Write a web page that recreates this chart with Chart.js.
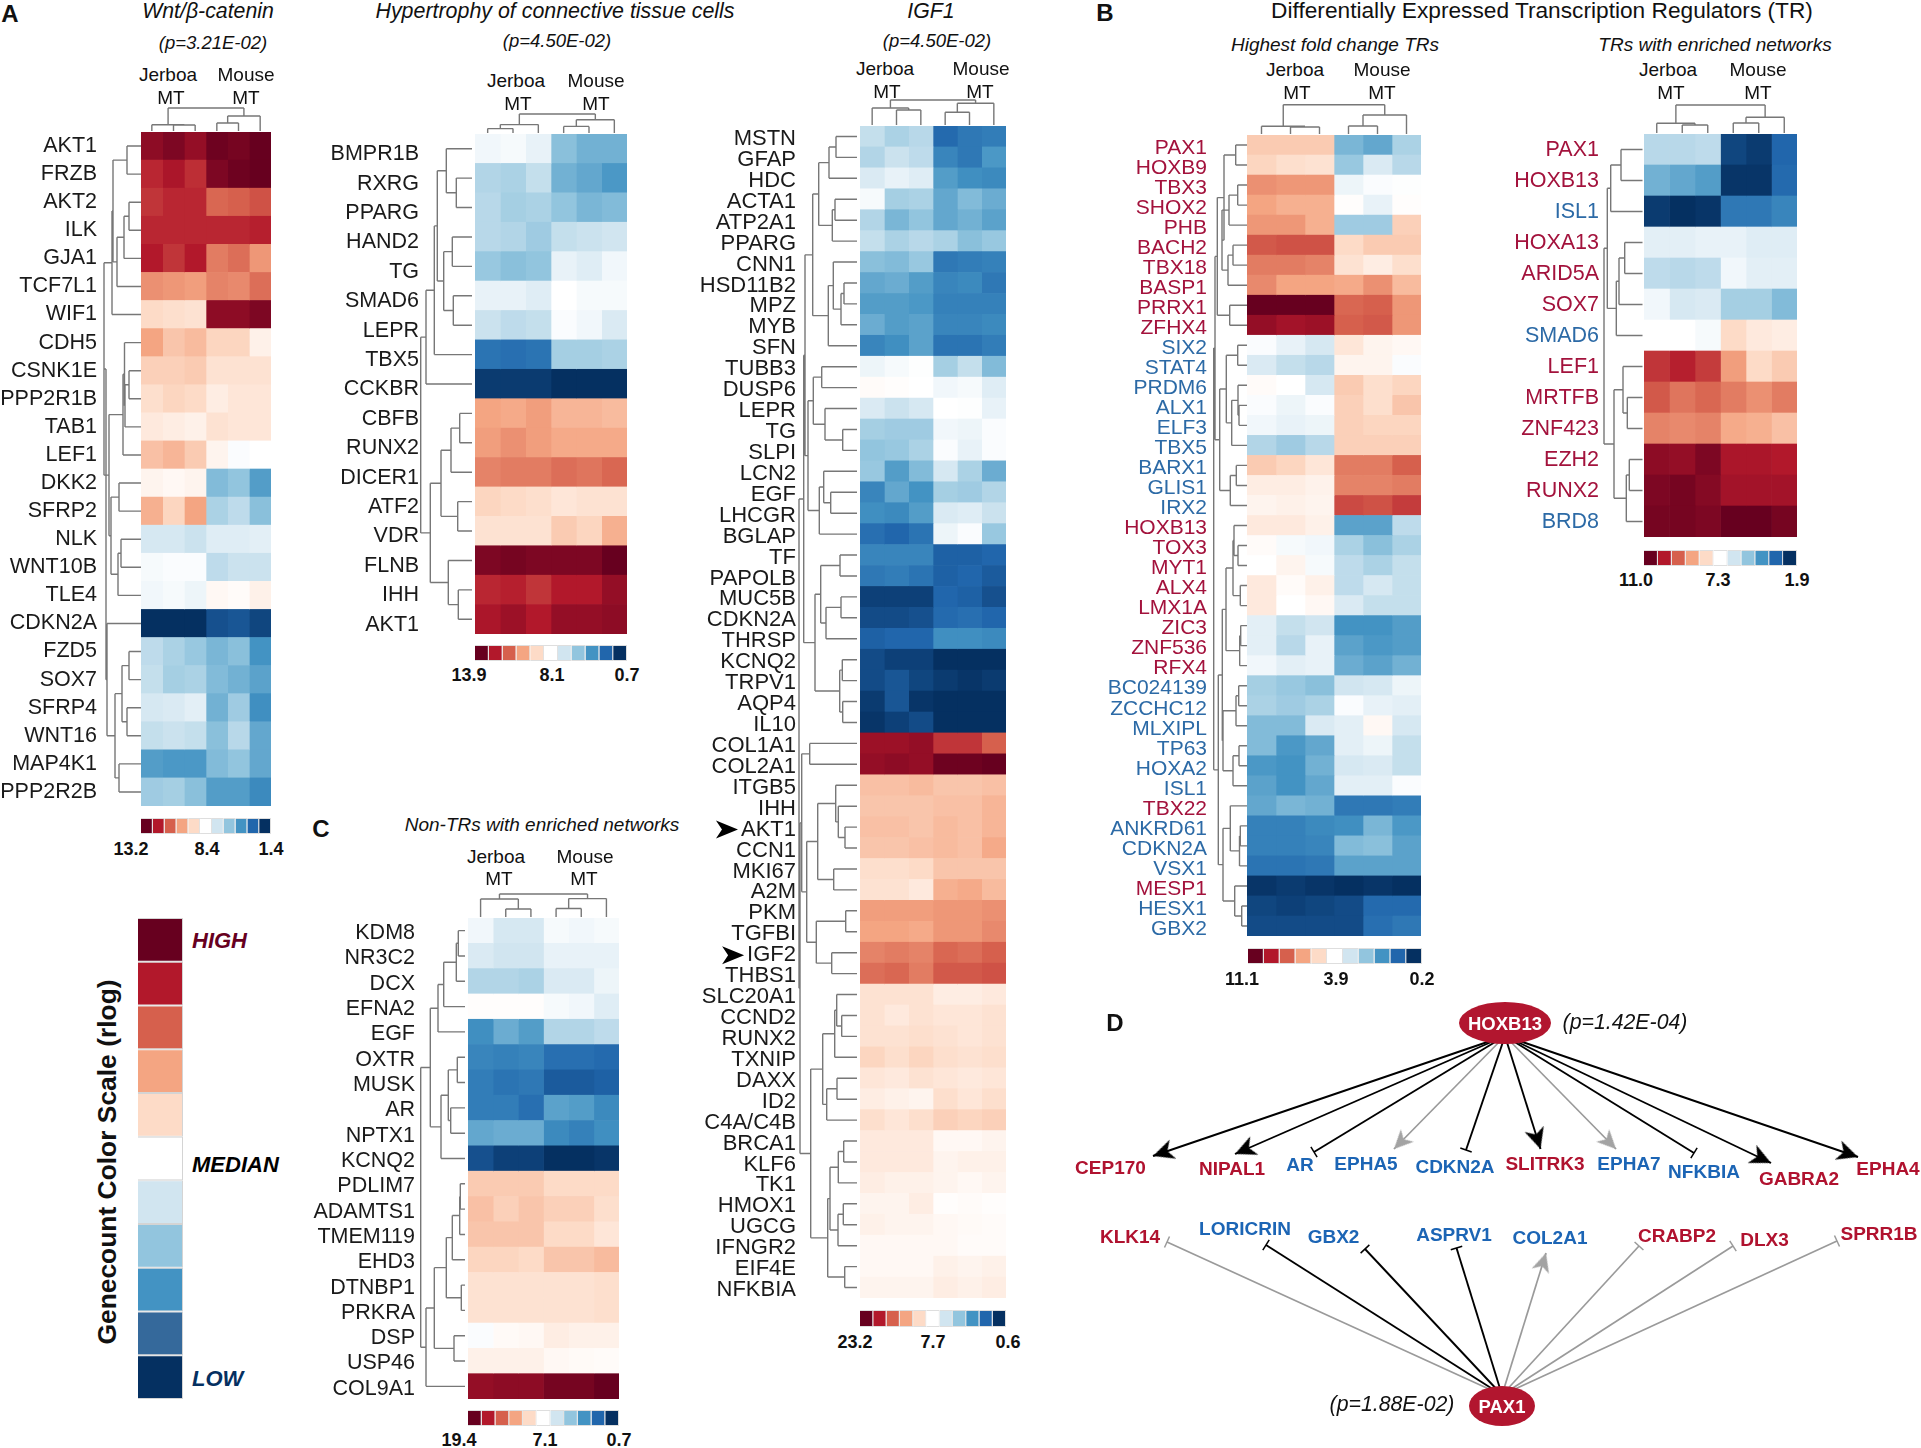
<!DOCTYPE html>
<html><head><meta charset="utf-8">
<style>
html,body{margin:0;padding:0;background:#fff;width:1921px;height:1448px;overflow:hidden}
#page{position:relative;width:1921px;height:1448px;font-family:"Liberation Sans",Arial,sans-serif}
canvas{position:absolute;display:block}
.t{position:absolute;white-space:nowrap;line-height:1;transform:translate(-50%,-50%);color:#111}
</style>
<script src="https://cdn.jsdelivr.net/npm/chart.js@4"></script>
</head><body><div id="page"></div>
<script>
// ---------- DATA (levels: +5 = highest colour step, 0 = median, -5 = lowest) ----------
const samples = ['J1','J2','J3','M1','M2','M3'];
const genesA = ['AKT1','FRZB','AKT2','ILK','GJA1','TCF7L1','WIF1','CDH5','CSNK1E','PPP2R1B','TAB1','LEF1','DKK2','SFRP2','NLK','WNT10B','TLE4','CDKN2A','FZD5','SOX7','SFRP4','WNT16','MAP4K1','PPP2R2B'];
const levelsA = [[4.5,4.7,4.4,4.9,4.8,5],[3.8,4.1,3.7,4.7,4.9,5],[3.6,3.8,3.8,2.9,3,3.2],[3.8,3.8,3.8,3.8,3.8,3.9],[4,3.6,4,2.6,2.8,2.2],[2.3,2.2,2.1,2.5,2.4,2.8],[1,.9,.8,4.5,4.5,4.7],[2,1.4,1.6,1.1,1.1,.4],[1.2,1.2,1.3,.8,.8,.8],[.9,1.1,1,.5,.7,.7],[.6,.5,.4,.8,.7,.7],[1.5,1.7,1.3,.3,-.1,0],[.3,.2,.3,-2.2,-2,-2.8],[1.8,1.1,2,-1.6,-1.3,-2.1],[-.9,-.9,-1.1,-.7,-.7,-.6],[-.2,-.1,-.1,-1.3,-1.1,-1.1],[-.3,-.2,-.4,.2,.1,.4],[-5,-5,-5,-4.4,-4.3,-4.6],[-1.3,-1.6,-1.9,-2.3,-2.1,-3],[-1.2,-1.7,-1.6,-2.2,-2.4,-2.7],[-.9,-.8,-.6,-2.4,-1.8,-3.1],[-1.2,-1.1,-1.2,-2.1,-1.4,-2.6],[-2.8,-2.9,-2.9,-2.2,-2,-2.6],[-1.8,-1.7,-2.1,-2.8,-2.8,-3.2]];
const rowTreeA = [35,[37,[29,[28,[14,0,1],[24,[17,[12,2,3],4],5]],6],[32,[18,[16.5,7,[16,[12,8,9],10]],11],[30,[22,12,13],[23,[20,14,15],16]]]],[34,17,[26,[19,[12,18,19],[14,20,21]],[22,22,23]]]];
const colTreeA = [24,[7.3,0,[7,1,2]],[16,[9,3,4],5]];

const genesH = ['BMPR1B','RXRG','PPARG','HAND2','TG','SMAD6','LEPR','TBX5','CCKBR','CBFB','RUNX2','DICER1','ATF2','VDR','FLNB','IHH','AKT1'];
const levelsH = [[-.3,-.2,-.5,-2.1,-2.4,-2.4],[-1.5,-1.6,-1.2,-2.4,-2.6,-2.9],[-1.4,-1.7,-1.6,-2,-2.3,-2.2],[-1.4,-1.5,-1.8,-1.2,-1.1,-1],[-1.9,-2.1,-2,-.5,-.7,-.3],[-.5,-.5,-.7,0,-.2,-.2],[-1.1,-1.3,-1.2,-.1,-.3,-.8],[-3.7,-3.8,-3.7,-1.7,-1.7,-1.6],[-4.8,-4.8,-4.8,-5,-5,-5],[2,1.9,2.1,1.7,1.7,1.6],[2.1,2.3,2.1,1.9,1.9,1.9],[2.5,2.6,2.6,2.8,2.7,2.9],[1.1,1,.9,.7,.8,.8],[.8,.8,.8,1.3,1.1,1.8],[4.7,4.8,4.7,4.7,4.7,5],[3.8,3.9,3.6,4,4,4.4],[4.1,4.3,4,4.4,4.4,4.5]];
const rowTreeH = [54.3,[49,[40.7,[37.7,[28.7,0,[18.7,1,2]],[31.3,[22.7,3,4],[21.7,5,6]]],7],8],[44.7,[34,[24,[15.3,9,10],11],[17.3,12,13]],[26.7,14,[16.7,15,16]]]];
const colTreeH = [20,[9.4,[5.4,0,1],2],[14.3,[7.6,3,4],5]];

const genesI = ['MSTN','GFAP','HDC','ACTA1','ATP2A1','PPARG','CNN1','HSD11B2','MPZ','MYB','SFN','TUBB3','DUSP6','LEPR','TG','SLPI','LCN2','EGF','LHCGR','BGLAP','TF','PAPOLB','MUC5B','CDKN2A','THRSP','KCNQ2','TRPV1','AQP4','IL10','COL1A1','COL2A1','ITGB5','IHH','AKT1','CCN1','MKI67','A2M','PKM','TGFBI','IGF2','THBS1','SLC20A1','CCND2','RUNX2','TXNIP','DAXX','ID2','C4A/C4B','BRCA1','KLF6','TK1','HMOX1','UGCG','IFNGR2','EIF4E','NFKBIA'];
const levelsI = [[-1.2,-1.6,-1.4,-3.9,-3.6,-3.5],[-1.5,-1.1,-1.3,-3.3,-3.6,-2.9],[-.8,-.5,-.7,-2.8,-3.1,-3.2],[-.2,-1.7,-1.6,-2.6,-2.2,-2.5],[-1.5,-2.3,-2,-2.6,-2.4,-2.7],[-1.2,-1.6,-1.4,-1.6,-2.1,-1.9],[-2.1,-2.2,-1.9,-3.6,-3.5,-3.4],[-2.6,-2.5,-2.8,-3.3,-3.2,-3.6],[-2.8,-2.8,-2.9,-3.4,-3.4,-3.4],[-2.5,-2.8,-2.7,-3.3,-3.3,-3.2],[-3.3,-3.1,-2.7,-3.7,-3.7,-3.5],[-.4,-.2,-.05,-1.7,-1.2,-2.2],[.1,.05,0,-.3,-.2,-.7],[-.8,-1.1,-.9,0,-.05,-.5],[-1.7,-1.8,-1.8,-.3,-.4,-.1],[-2,-1.9,-1.6,-.1,-.5,-.1],[-1.9,-2.8,-2.2,-.9,-1.6,-2.5],[-3.3,-2.6,-3,-1.7,-1.8,-1.5],[-3.1,-3.2,-2.8,-.8,-.7,-1.1],[-3.8,-4,-3.7,-.4,-.1,-1.9],[-3.3,-3.3,-3.3,-4.1,-4.1,-4],[-3.6,-3.5,-3.7,-4.1,-4,-4.2],[-4.7,-4.7,-4.7,-4,-4.1,-4.4],[-4.5,-4.5,-4.4,-3.9,-3.8,-4],[-4.1,-4,-4,-3.1,-3.1,-3.2],[-4.5,-4.7,-4.7,-5,-5,-5],[-4.5,-4.3,-4.6,-4.8,-4.9,-4.8],[-4.8,-4.3,-4.9,-5,-5,-5],[-4.9,-4.7,-4.5,-5,-5,-5],[4.3,4.3,4.4,3.6,3.6,3],[4.4,4.5,4.4,4.9,4.9,5],[1.5,1.5,1.6,1.4,1.4,1.5],[1.4,1.4,1.4,1.5,1.5,1.7],[1.5,1.5,1.4,1.6,1.5,1.7],[1.4,1.4,1.5,1.6,1.5,1.9],[.9,.9,1,1.4,1.4,1.4],[.8,.8,.6,1.8,1.9,1.6],[2.1,2.1,2.1,2.2,2.2,2.3],[2,2,1.9,2.2,2.2,2.4],[2.5,2.6,2.5,2.9,2.8,3],[2.8,2.9,2.6,3.1,3.1,3.2],[.8,.8,.8,.5,.5,.6],[.8,.6,.8,.7,.7,.8],[.8,.8,.9,.8,.7,.8],[1.1,.9,1.1,.9,.8,.9],[.7,.6,.8,.7,.6,.7],[.5,.4,.3,.9,.7,.9],[.9,.7,.9,1.2,1.1,1.2],[.6,.6,.6,.2,.2,.3],[.6,.6,.6,.3,.4,.4],[.5,.4,.4,.3,.2,.3],[.3,.3,.5,.05,.1,.05],[.4,.3,.3,.2,.15,.1],[.2,.2,.2,.2,.1,.1],[.2,.2,.2,.4,.3,.4],[.3,.3,.3,.5,.4,.5]];
const rowTreeI = [61,[56.3,[55,[47.3,[41.3,[31,[24,0,1],2],[27.7,[25,3,4],5]],[31.7,[26.7,6,[19,[16,7,8],9]],10]],[52,[46.7,[38.3,11,12],[35,13,[17.3,14,15]]],[40.7,[36.3,16,[29.3,17,18]],19]]],[45,[39.3,[20,20,21],[34,[19,22,23],24]],[20.3,[17.7,25,26],[17.3,27,28]]]],[60,[58.3,[50.3,29,30],[53.3,[42.3,[24.3,31,[21.7,32,[15,33,34]]],[26.3,35,36]],[43.7,[14.3,37,38],[28.3,39,40]]]],[49.3,[37.3,[25.3,[23.3,41,[18.3,42,43]],44],[33.3,[23,45,46],47]],[32.3,[30,[21.7,[16.3,48,49],50],[22,[16.7,51,52],53]],[15.3,54,55]]]]];
const colTreeI = [26,[18,0,[16,1,2]],[22.7,[13.7,3,4],5]];
const markedGenesI = ['AKT1','IGF2'];

const genesC = ['KDM8','NR3C2','DCX','EFNA2','EGF','OXTR','MUSK','AR','NPTX1','KCNQ2','PDLIM7','ADAMTS1','TMEM119','EHD3','DTNBP1','PRKRA','DSP','USP46','COL9A1'];
const levelsC = [[-.3,-.9,-.9,-.2,-.3,-.2],[-.8,-1,-1,-.5,-.5,-.5],[-1.5,-1.5,-1.6,-.8,-.8,-.4],[.05,.05,.05,-.2,-.3,-.7],[-3.1,-2.5,-2.8,-1.5,-1.5,-1.3],[-3.3,-3.4,-3.3,-3.8,-3.8,-3.9],[-3.5,-3.7,-3.6,-4.2,-4.2,-4.1],[-3.5,-3.5,-3.8,-2.7,-2.8,-3.2],[-2.6,-2.5,-2.5,-3.2,-3.4,-3.1],[-4.4,-4.7,-4.7,-5,-5,-4.9],[1.3,1.3,1.3,1,1,1],[1.5,1.2,1.4,1.2,1.2,.9],[1.4,1.4,1.4,1,1,.7],[1.1,1.1,1,1.4,1.4,1.6],[.8,.8,.8,.8,.8,.9],[.8,.8,.8,.8,.8,.9],[-.1,.15,.2,.5,.4,.4],[.4,.4,.4,.2,.15,.1],[4.4,4.5,4.5,4.8,4.8,5]];
const rowTreeC = [47.3,[37.7,[30,[24.3,[11.7,[9.7,0,1],2],3],4],[27,[19.7,[10.7,5,6],[17.3,7,8]],9]],[42,[33.7,[21.7,[15.7,[8.3,[7.7,10,11],12],13],[6.7,14,15]],[14,16,17]],18]];
const colTreeC = [24,[19,0,[9,1,2]],[19.4,[9.5,3,4],5]];

const genesB1 = ['PAX1','HOXB9','TBX3','SHOX2','PHB','BACH2','TBX18','BASP1','PRRX1','ZFHX4','SIX2','STAT4','PRDM6','ALX1','ELF3','TBX5','BARX1','GLIS1','IRX2','HOXB13','TOX3','MYT1','ALX4','LMX1A','ZIC3','ZNF536','RFX4','BC024139','ZCCHC12','MLXIPL','TP63','HOXA2','ISL1','TBX22','ANKRD61','CDKN2A','VSX1','MESP1','HESX1','GBX2'];
const tonesB1 = ['r','r','r','r','r','r','r','r','r','r','b','b','b','b','b','b','b','b','b','r','r','r','r','r','r','r','r','b','b','b','b','b','b','r','b','b','b','r','b','b'];
const levelsB1 = [[1.3,1.3,1.3,-2.3,-2.6,-1.6],[1.1,.9,.8,-1.9,-.8,-1.4],[2.3,2.2,2.2,-.4,-.1,-.05],[2,1.8,1.8,.05,-.5,.05],[2.2,2.2,1.8,-1.8,-1.8,1.2],[3.1,3.2,3.2,1,1.3,1.3],[2.6,2.6,2.5,.8,.5,.9],[2.4,2,2,1.9,2.3,1.6],[5,5,5,2.9,3,2.2],[4.4,4.2,4.3,3,3.1,2.2],[-.1,-.5,-.9,.7,.3,.2],[-.8,-1.2,-1.4,.3,.3,-.1],[.1,0,-.9,1.3,.9,1.1],[-.1,-.4,-.1,1.2,.9,1.4],[-.3,-.5,-.4,1.2,1.1,1.1],[-1.5,-1.8,-1.4,1.2,1.2,1.2],[1.3,1.1,.7,2.6,2.6,3],[.5,.5,.35,2.5,2.5,2.6],[.3,.4,.3,3.3,3.2,3.5],[.6,.6,.4,-2.7,-2.7,-1.3],[.1,-.2,-.3,-1.6,-2.1,-1.6],[0,.3,-.2,-1.3,-1.6,-1.2],[.6,.1,.4,-1.3,-.9,-1.2],[.6,0,.2,-.8,-1.2,-1.2],[-.6,-1.2,-1,-3,-3,-2.8],[-.6,-1.4,-.5,-2.7,-2.9,-2.8],[-.3,-.6,-.5,-2.5,-2.7,-2.4],[-1.7,-1.9,-2.1,-1,-.9,-.4],[-1.6,-1.8,-1.6,-.1,-.5,-.6],[-2.2,-2.2,-.8,-.6,.2,-.9],[-2.2,-2.9,-2.6,-.6,-.4,-1.2],[-2.9,-3,-2.4,-.9,-.8,-1.2],[-2.7,-3,-2.6,-.6,-.6,-.1],[-2.6,-2.3,-2.4,-3.6,-3.6,-3.5],[-3.4,-3.4,-3.2,-3.1,-2.3,-2.9],[-3.4,-3.4,-3.3,-2.2,-2.1,-2.7],[-3.7,-3.7,-3.6,-2.7,-2.7,-2.7],[-4.9,-4.8,-4.9,-5,-4.9,-5],[-4.6,-4.7,-4.6,-4.5,-3.9,-3.9],[-4.5,-4.5,-4.5,-4.5,-3.8,-3.6]];
const rowTreeB1 = [33.3,[32,[29.7,[23,[11.3,0,1],[25,[18,[9.3,2,3],4],[19,[14,5,6],7]]],[17.3,8,9]],[27.3,[20.7,[9.3,10,11],[15.3,[9,12,[8,13,14]],15]],[16.7,[10.7,16,17],18]]],[28.7,[24.7,[21,[14,[13,19,[9,20,21]],[6.7,22,23]],[7.3,[6.3,24,25],26]],[24,[11,[8.3,27,28],29],[14,[8,30,31],32]]],[24,[16.7,33,[7.5,[6.7,34,35],36]],[12.3,37,[5.3,38,39]]]]];
const colTreeB1 = [30.3,[8.7,0,[8,1,2]],[20,[9,3,4],5]];

const genesB2 = ['PAX1','HOXB13','ISL1','HOXA13','ARID5A','SOX7','SMAD6','LEF1','MRTFB','ZNF423','EZH2','RUNX2','BRD8'];
const tonesB2 = ['r','r','b','r','r','r','b','r','r','r','r','r','b'];
const levelsB2 = [[-1.4,-1.4,-1.3,-4.6,-4.8,-4],[-2.4,-2.6,-2.8,-4.9,-4.9,-3.9],[-4.8,-5,-4.9,-3.6,-3.6,-3.3],[-.6,-.6,-.5,-.5,-.7,-.7],[-1.3,-1.4,-1.3,-.3,-.6,-.6],[-.3,-.9,-.8,-1.7,-1.7,-2.2],[0,0,-.2,1,.6,.5],[3.6,3.9,3.5,2.1,1,1.3],[3.1,2.7,2.9,2.6,2.3,2.6],[2.5,2.4,2.5,1.9,1.8,1.5],[4.5,4.4,4.7,4.1,4.1,4],[4.7,4.8,4.6,4.2,4.2,4.2],[4.8,4.8,4.7,5,5,4.8]];
const rowTreeB2 = [40,[36.7,[33.3,[23,0,1],2],[27.7,[25,[19.3,3,4],5],6]],[30,[21,7,[16.7,8,9]],[17.7,[14.7,10,11],12]]];
const colTreeB2 = [29,[10.7,0,[9,1,2]],[16.7,[11,3,4],5]];

const scaleSteps = [5,4,3,2,1,0,-1,-2,-3,-4,-5];
const rampColors = ['#67001f','#b2182b','#d6604d','#f4a582','#fddbc7','#ffffff','#d1e5f0','#92c5de','#4393c3','#2166ac','#053061'];
const legendColors = ['#67001f','#b2182b','#d6604d','#f4a582','#fddbc7','#ffffff','#d1e5f0','#92c5de','#4393c3','#35699b','#053061'];
const legendSteps = ['HIGH','','','','','MEDIAN','','','','','LOW'];

// network D: node and target layout
const netNodes = [{x:1505,y:1023},{x:1502,y:1406}];
const hubs = [{x:1505,y:1036},{x:1502,y:1395}];
const hoxTargets = ['CEP170','NIPAL1','AR','EPHA5','CDKN2A','SLITRK3','EPHA7','NFKBIA','GABRA2','EPHA4'];
const hoxEndX = [1153,1235,1314,1394,1466,1540.5,1616,1694,1771,1858];
const hoxEndY = [1156,1154,1152,1149,1150,1149,1149,1153,1163,1157];
const hoxEffect = ['a','a','t','a','t','a','a','t','a','a'];
const hoxTone = ['k','k','k','g','k','k','g','k','k','k'];
const paxTargets = ['KLK14','LORICRIN','GBX2','ASPRV1','COL2A1','CRABP2','DLX3','SPRR1B'];
const paxEndX = [1167,1266,1365,1456.5,1546,1639,1733,1837];
const paxEndY = [1242,1245,1249,1248,1253,1246,1246,1241];
const paxEffect = ['t','t','t','t','a','t','t','t'];
const paxTone = ['g','k','k','k','g','g','g','g'];

// ---------- helpers ----------
const FONT = '"Liberation Sans", Arial, sans-serif';
const page = document.getElementById('page');
Chart.defaults.font.family = FONT;
const RED = '#a3123c', BLUE = '#2c6aa6', DRED = '#b0122f', DBLUE = '#1c65b5';

function hex(c){return [1,3,5].map(i=>parseInt(c.substr(i,2),16));}
function levelColor(v){
  const t = Math.min(10,Math.max(0,5-v)), i = Math.min(9,Math.floor(t)), f = t-i;
  const a = hex(rampColors[i]), b = hex(rampColors[i+1]);
  return 'rgb('+a.map((x,k)=>Math.round(x+(b[k]-x)*f)).join(',')+')';
}
function text(s,x,y,o){
  o=o||{};
  const e=document.createElement('div'); e.className='t'; e.textContent=s;
  e.style.left=x+'px'; e.style.top=y+'px';
  e.style.fontSize=(o.size||19)+'px';
  if(o.bold) e.style.fontWeight='bold';
  if(o.italic) e.style.fontStyle='italic';
  if(o.color) e.style.color=o.color;
  if(o.left) e.style.transform='translate(0,-50%)';
  if(o.rot) e.style.transform='translate(-50%,-50%) rotate('+o.rot+'deg)';
  page.appendChild(e);
}
function canvas(l,t,w,h){
  const c=document.createElement('canvas'); c.width=w; c.height=h;
  c.style.left=l+'px'; c.style.top=t+'px'; c.style.width=w+'px'; c.style.height=h+'px';
  page.appendChild(c); return c.getContext('2d');
}
function walk(node,pos,seg,leafH){
  if(typeof node==='number') return {p:pos(node),h:leafH};
  const h=node[0], kids=node.slice(1).map(n=>walk(n,pos,seg,leafH));
  kids.forEach(k=>seg(k.h,k.p,h,k.p));
  seg(h,kids[0].p,h,kids[kids.length-1].p);
  return {p:(kids[0].p+kids[kids.length-1].p)/2,h};
}
function heat(cfg){
  const [l,t,r,b]=cfg.box, left=cfg.left, head=36, top=t-head, size=cfg.font||21, off=cfg.labelOffset||0;
  const treePlugin={id:'trees',afterDatasetsDraw(ch){
    const c=ch.ctx, X=ch.scales.x, Y=ch.scales.y, A=ch.chartArea;
    c.save(); c.strokeStyle='#777777'; c.lineWidth=1.4; c.beginPath();
    walk(cfg.rowTree,i=>Y.getPixelForValue(i),(h1,p1,h2,p2)=>{c.moveTo(A.left-h1,p1);c.lineTo(A.left-h2,p2);},cfg.rowGap);
    walk(cfg.colTree,i=>X.getPixelForValue(i+.5),(h1,p1,h2,p2)=>{c.moveTo(p1,A.top-h1);c.lineTo(p2,A.top-h2);},1);
    c.stroke();
    (cfg.marks||[]).forEach(g=>{
      const y=Y.getPixelForValue(cfg.labels.indexOf(g))+off;
      c.font=size+'px '+FONT;
      const tipX=cfg.labelRight-left-c.measureText(g).width-3;
      c.fillStyle='#000'; c.beginPath();
      c.moveTo(tipX,y); c.lineTo(tipX-22,y-9); c.lineTo(tipX-16,y); c.lineTo(tipX-22,y+9); c.closePath(); c.fill();
    });
    c.restore();
  }};
  new Chart(canvas(left,top,r-left,b-top),{
    type:'bar',
    data:{labels:cfg.labels,datasets:samples.map((s,k)=>({label:s,data:cfg.levels.map(()=>1),backgroundColor:cfg.levels.map(row=>levelColor(row[k])),borderWidth:0,barPercentage:1,categoryPercentage:1}))},
    options:{indexAxis:'y',responsive:false,animation:false,devicePixelRatio:1,
      layout:{autoPadding:false,padding:{top:head,left:0,right:0,bottom:0}},
      plugins:{legend:{display:false},tooltip:{enabled:false}},
      scales:{
        x:{stacked:true,min:0,max:6,display:false},
        y:{stacked:true,offset:true,border:{display:false},grid:{display:false,drawTicks:false},
          afterFit(s){s.width=l-left;s.paddingTop=0;s.paddingBottom=0;},
          ticks:{autoSkip:false,padding:l-cfg.labelRight,labelOffset:off,font:{size},
            color:c=>cfg.tones?(cfg.tones[c.index]==='r'?RED:BLUE):'#1a1a1a'}}
      }},
    plugins:[treePlugin]
  });
}
function colorbar(l,t,r,b){
  new Chart(canvas(l,t,r-l,b-t),{
    type:'bar',
    data:{labels:['scale'],datasets:scaleSteps.map(v=>({data:[1],backgroundColor:levelColor(v),borderColor:'rgba(70,70,70,.18)',borderWidth:1,inflateAmount:0,barPercentage:1,categoryPercentage:1}))},
    options:{indexAxis:'y',responsive:false,animation:false,devicePixelRatio:1,layout:{autoPadding:false,padding:0},
      plugins:{legend:{display:false},tooltip:{enabled:false}},
      scales:{x:{stacked:true,min:0,max:scaleSteps.length,display:false},y:{stacked:true,display:false}}}
  });
}
function header(o){
  text('Jerboa',o.j[0],o.j[1],{size:19});
  text('MT',o.jm[0],o.jm[1],{size:19});
  text('Mouse',o.m[0],o.m[1],{size:19});
  text('MT',o.mm[0],o.mm[1],{size:19});
}
function barLabels(list,y){list.forEach(a=>text(a[0],a[1],y,{size:18,bold:true}));}

// ---------- heatmaps ----------
heat({box:[141,132,271,806],left:0,labelRight:97,font:21.5,labels:genesA,levels:levelsA,rowTree:rowTreeA,colTree:colTreeA,rowGap:0});
heat({box:[475,134,627,634],left:314,labelRight:419,font:21.5,labelOffset:5.5,labels:genesH,levels:levelsH,rowTree:rowTreeH,colTree:colTreeH,rowGap:3});
heat({box:[860,126,1006,1298],left:690,labelRight:796,font:22,labelOffset:2.5,labels:genesI,levels:levelsI,rowTree:rowTreeI,colTree:colTreeI,rowGap:3,marks:markedGenesI});
heat({box:[468,918,619,1399],left:305,labelRight:415,font:21.5,labelOffset:2.5,labels:genesC,levels:levelsC,rowTree:rowTreeC,colTree:colTreeC,rowGap:3});
heat({box:[1247,135,1421,936],left:1095,labelRight:1207,font:21,labelOffset:3,labels:genesB1,levels:levelsB1,tones:tonesB1,rowTree:rowTreeB1,colTree:colTreeB1,rowGap:0});
heat({box:[1644,134,1797,537],left:1484,labelRight:1599,font:21.5,labelOffset:1,labels:genesB2,levels:levelsB2,tones:tonesB2,rowTree:rowTreeB2,colTree:colTreeB2,rowGap:1.5});

colorbar(141,818,271,834);
colorbar(475,645,627,661);
colorbar(860,1310,1006,1327);
colorbar(468,1410,619,1426);
colorbar(1248,948,1422,964);
colorbar(1644,550,1797,566);

// big legend
new Chart(canvas(138,918,45,481),{
  type:'bar',
  data:{labels:legendSteps,datasets:[{data:legendSteps.map(()=>1),backgroundColor:legendColors,borderColor:'rgba(60,60,60,.22)',borderWidth:1,inflateAmount:0,barPercentage:1,categoryPercentage:1}]},
  options:{indexAxis:'y',responsive:false,animation:false,devicePixelRatio:1,layout:{autoPadding:false,padding:0},
    plugins:{legend:{display:false},tooltip:{enabled:false}},
    scales:{x:{min:0,max:1,display:false},y:{display:false}}}
});

// ---------- network D ----------
function arrowImage(color,len,half){
  const c=document.createElement('canvas'); c.width=len*2; c.height=half*2;
  const x=c.getContext('2d'); x.fillStyle=color; x.beginPath();
  x.moveTo(len,half); x.lineTo(0,0); x.lineTo(len*.28,half); x.lineTo(0,half*2); x.closePath(); x.fill();
  return c;
}
function ellipseImage(rx,ry){
  const c=document.createElement('canvas'); c.width=rx*2; c.height=ry*2;
  const x=c.getContext('2d'); x.fillStyle='#b2162f'; x.beginPath(); x.ellipse(rx,ry,rx,ry,0,0,Math.PI*2); x.fill();
  return c;
}
const blackArrow=arrowImage('#000',21,10), greyArrow=arrowImage('#a3a3a3',19,9);
function edges(hub,ends,ex,ey,fx,tone){
  return ends.map((name,i)=>{
    const k=tone[i]==='k', a=fx[i]==='a';
    const col=k?'#000':'#9a9a9a';
    const deg=Math.atan2(ey[i]-hub.y,ex[i]-hub.x)*180/Math.PI;
    return {label:name,showLine:true,data:[{x:hub.x,y:hub.y},{x:ex[i],y:ey[i]}],borderColor:col,borderWidth:k?1.9:1.7,
      pointRadius:[0,6],pointStyle:[false,a?(k?blackArrow:greyArrow):'line'],
      pointRotation:[0,a?deg:deg+90],pointBorderColor:col,pointBackgroundColor:col,pointBorderWidth:[0,a?0:1.5]};
  });
}
new Chart(canvas(1060,990,861,458),{
  type:'scatter',
  data:{datasets:[
    {label:'nodes',data:netNodes,pointStyle:[ellipseImage(46,21),ellipseImage(33,20)],pointRadius:10,showLine:false},
    ...edges(hubs[0],hoxTargets,hoxEndX,hoxEndY,hoxEffect,hoxTone),
    ...edges(hubs[1],paxTargets,paxEndX,paxEndY,paxEffect,paxTone)
  ]},
  options:{responsive:false,animation:false,devicePixelRatio:1,layout:{autoPadding:false,padding:0},
    plugins:{legend:{display:false},tooltip:{enabled:false}},
    scales:{x:{type:'linear',min:1060,max:1921,display:false},y:{type:'linear',min:990,max:1448,reverse:true,display:false}}}
});

// ---------- text ----------
text('A',10,14,{size:24,bold:true});
text('B',1105,13,{size:24,bold:true});
text('C',321,829,{size:24,bold:true});
text('D',1115,1023,{size:24,bold:true});

text('Wnt/β-catenin',208,12,{size:21.3,italic:true});
text('(p=3.21E-02)',213,43,{size:18.5,italic:true});
header({j:[168,74],jm:[171,97],m:[246,74],mm:[246,97]});
barLabels([['13.2',131],['8.4',207],['1.4',271]],849);

text('Hypertrophy of connective tissue cells',555,12,{size:21.4,italic:true});
text('(p=4.50E-02)',557,41,{size:18.5,italic:true});
header({j:[516,80],jm:[518,103],m:[596,80],mm:[596,103]});
barLabels([['13.9',469],['8.1',552],['0.7',627]],675);

text('IGF1',931,12,{size:21.3,italic:true});
text('(p=4.50E-02)',937,41,{size:18.5,italic:true});
header({j:[885,68],jm:[887,91],m:[981,68],mm:[980,91]});
barLabels([['23.2',855],['7.7',933],['0.6',1008]],1342);

text('Non-TRs with enriched networks',542,824,{size:19,italic:true});
header({j:[496,856],jm:[499,878],m:[585,856],mm:[584,878]});
barLabels([['19.4',459],['7.1',545],['0.7',619]],1440);

text('Differentially Expressed Transcription Regulators (TR)',1542,10,{size:22.7});
text('Highest fold change TRs',1335,44,{size:19,italic:true});
header({j:[1295,69],jm:[1297,92],m:[1382,69],mm:[1382,92]});
barLabels([['11.1',1242],['3.9',1336],['0.2',1422]],979);

text('TRs with enriched networks',1715,44,{size:19,italic:true});
header({j:[1668,69],jm:[1671,92],m:[1758,69],mm:[1758,92]});
barLabels([['11.0',1636],['7.3',1718],['1.9',1797]],580);

text('Genecount Color Scale (rlog)',107,1162,{size:26.4,bold:true,rot:-90});
text('HIGH',192,941,{size:22,bold:true,italic:true,color:'#67001f',left:true});
text('MEDIAN',192,1165,{size:22,bold:true,italic:true,color:'#000',left:true});
text('LOW',192,1379,{size:22,bold:true,italic:true,color:'#053061',left:true});

text('HOXB13',1505,1024,{size:18.5,bold:true,color:'#fff'});
text('PAX1',1502,1407,{size:18.5,bold:true,color:'#fff'});
text('(p=1.42E-04)',1625,1023,{size:21.3,italic:true});
text('(p=1.88E-02)',1392,1405,{size:21.3,italic:true});

const hoxLabelX=[1110.5,1232,1300,1366,1455,1545,1629,1704,1799,1888];
const hoxLabelY=[1167,1168,1164,1163,1166,1163,1163,1171,1178,1168];
const hoxLabelTone=['r','r','b','b','b','r','b','b','r','r'];
hoxTargets.forEach((n,i)=>text(n,hoxLabelX[i],hoxLabelY[i],{size:19,bold:true,color:hoxLabelTone[i]==='r'?DRED:DBLUE}));
const paxLabelX=[1130,1245,1333.5,1454,1550,1677,1764.5,1879];
const paxLabelY=[1236,1228,1236,1234,1237,1235,1239,1233];
const paxLabelTone=['r','b','b','b','b','r','r','r'];
paxTargets.forEach((n,i)=>text(n,paxLabelX[i],paxLabelY[i],{size:19,bold:true,color:paxLabelTone[i]==='r'?DRED:DBLUE}));
</script></body></html>
